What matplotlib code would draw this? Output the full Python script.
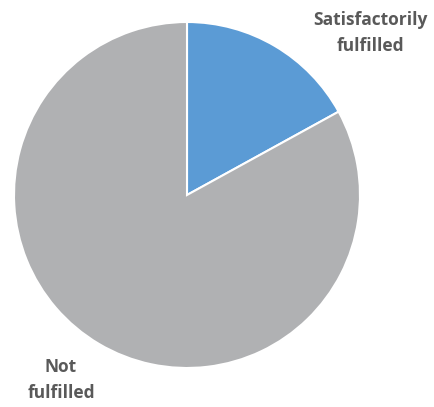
import matplotlib
matplotlib.use("Agg")
import matplotlib.pyplot as plt

# data
labels = ["Satisfactorily\nfulfilled", "Not\nfulfilled"]
values = [17, 83]
colors = ["#5B9BD5", "#B0B1B3"]

fig = plt.figure(figsize=(4.34, 4.07), dpi=100)
ax = fig.add_axes([14 / 434, 39 / 407, 346 / 434, 346 / 407])

ax.pie(values, colors=colors, startangle=90, counterclock=False,
       radius=1.0, wedgeprops=dict(edgecolor="white", linewidth=1.5))
ax.set_xlim(-1, 1)
ax.set_ylim(-1, 1)
ax.set_aspect("equal")
ax.axis("off")

# label positions (data coords, radius = 1)
label_pos = [(1.058, 0.936), (-0.728, -1.069)]
for txt, (x, y) in zip(labels, label_pos):
    ax.text(x, y, txt, ha="center", va="center", fontsize=12.5,
            fontweight="bold", family="Open Sans", color="#595959",
            linespacing=1.6, clip_on=False)

fig.savefig("out.png", dpi=100)
